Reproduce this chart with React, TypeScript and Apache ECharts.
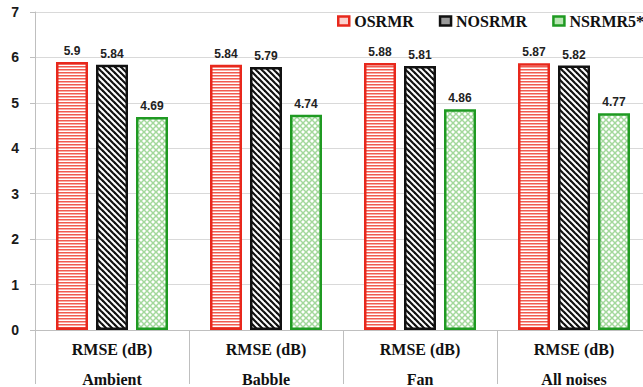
import { useEffect, useRef } from "react";
import * as echarts from "echarts";

// Noise conditions along the x axis
const categories = ["Ambient", "Babble", "Fan", "All noises"];
const metricLabel = "RMSE (dB)";

// RMSE values per method
const seriesNames = ["OSRMR", "NOSRMR", "NSRMR5*"];
const osrmrValues = [5.9, 5.84, 5.88, 5.87];
const nosrmrValues = [5.84, 5.79, 5.81, 5.82];
const nsrmr5Values = [4.69, 4.74, 4.86, 4.77];

// Y axis range
const yMin = 0;
const yMax = 7;
const yStep = 1;

function makeTile(w: number, h: number, draw: (ctx: CanvasRenderingContext2D) => void) {
  const c = document.createElement("canvas");
  c.width = w;
  c.height = h;
  const ctx = c.getContext("2d")!;
  ctx.fillStyle = "#ffffff";
  ctx.fillRect(0, 0, w, h);
  draw(ctx);
  return c;
}

// horizontal red stripes
function stripeTile() {
  return makeTile(3, 3, (ctx) => {
    ctx.fillStyle = "#f15b50";
    ctx.fillRect(0, 0, 3, 1);
    ctx.fillStyle = "#f8aca5";
    ctx.fillRect(0, 1, 3, 1);
  });
}

// dark diagonal stripes running down-right
function diagonalTile() {
  const s = 6;
  return makeTile(s, s, (ctx) => {
    ctx.strokeStyle = "#111111";
    ctx.lineWidth = 2.2;
    for (const o of [-s, 0, s]) {
      ctx.beginPath();
      ctx.moveTo(o - 1, -1);
      ctx.lineTo(o + s + 1, s + 1);
      ctx.stroke();
    }
  });
}

// light green lattice
function latticeTile() {
  const s = 6;
  return makeTile(s, s, (ctx) => {
    ctx.strokeStyle = "#a3d89c";
    ctx.lineWidth = 1.5;
    for (const o of [-s, 0, s]) {
      ctx.beginPath();
      ctx.moveTo(o - 1, -1);
      ctx.lineTo(o + s + 1, s + 1);
      ctx.stroke();
      ctx.beginPath();
      ctx.moveTo(o + s + 1, -1);
      ctx.lineTo(o - 1, s + 1);
      ctx.stroke();
    }
  });
}

export default function App() {
  const ref = useRef<HTMLDivElement>(null);

  useEffect(() => {
    document.body.style.margin = "0";
    document.body.style.overflow = "hidden";
    if (!ref.current) return;
    const chart = echarts.init(ref.current, undefined, { renderer: "svg" });

    const serif = "'Liberation Serif', 'Times New Roman', serif";
    const sans = "'Liberation Sans', Arial, sans-serif";

    const valueLabel = {
      show: true,
      position: "top" as const,
      distance: 5,
      fontFamily: sans,
      fontWeight: "bold" as const,
      fontSize: 12,
      color: "#222222",
    };

    const styles = [
      { fill: stripeTile(), border: "#e8281c", legendFill: "#fbd0cc" },
      { fill: diagonalTile(), border: "#111111", legendFill: "#9a9a9a" },
      { fill: latticeTile(), border: "#1f9a22", legendFill: "#b9e6b3" },
    ];
    const values = [osrmrValues, nosrmrValues, nsrmr5Values];

    chart.setOption({
      animation: false,
      backgroundColor: "#ffffff",
      grid: { left: 35, right: 9, top: 12, bottom: 54, containLabel: false },
      legend: {
        left: 337,
        top: 13,
        padding: 0,
        itemWidth: 11,
        itemHeight: 9,
        itemGap: 25,
        icon: "rect",
        textStyle: { fontFamily: serif, fontWeight: "bold", fontSize: 16, color: "#111111" },
        data: seriesNames.map((name, i) => ({
          name,
          itemStyle: { color: styles[i].legendFill, borderColor: styles[i].border, borderWidth: 2.5 },
        })),
      },
      xAxis: {
        type: "category",
        data: categories,
        axisLine: { show: true, lineStyle: { color: "#bfbfbf", width: 1 } },
        axisTick: { show: true, length: 54, interval: 0, lineStyle: { color: "#bfbfbf", width: 1 } },
        axisLabel: {
          interval: 0,
          margin: 4,
          formatter: (v: string) => `{a|${metricLabel}}\n{b|${v}}`,
          rich: {
            a: { fontFamily: serif, fontWeight: "bold", fontSize: 16, lineHeight: 30, color: "#111111" },
            b: { fontFamily: serif, fontWeight: "bold", fontSize: 16, lineHeight: 30, color: "#111111" },
          },
        },
      },
      yAxis: {
        type: "value",
        min: yMin,
        max: yMax,
        interval: yStep,
        axisLine: { show: true, lineStyle: { color: "#bfbfbf", width: 1 } },
        axisTick: { show: true, length: 5, lineStyle: { color: "#bfbfbf" } },
        splitLine: { show: true, lineStyle: { color: "#d9d9d9", width: 1 } },
        axisLabel: {
          margin: 16,
          fontFamily: sans,
          fontWeight: "bold",
          fontSize: 14,
          color: "#1a1a1a",
        },
      },
      series: seriesNames.map((name, i) => ({
        name,
        type: "bar",
        data: values[i],
        barWidth: 32,
        barGap: "25%",
        itemStyle: {
          color: { image: styles[i].fill, repeat: "repeat" },
          borderColor: styles[i].border,
          borderWidth: 2.5,
        },
        label: valueLabel,
      })),
    });

    return () => chart.dispose();
  }, []);

  // The plot runs slightly past the right edge of the visible frame.
  return (
    <div style={{ width: 643, height: 387, overflow: "hidden" }}>
      <div ref={ref} style={{ width: 660, height: 387 }} />
    </div>
  );
}
